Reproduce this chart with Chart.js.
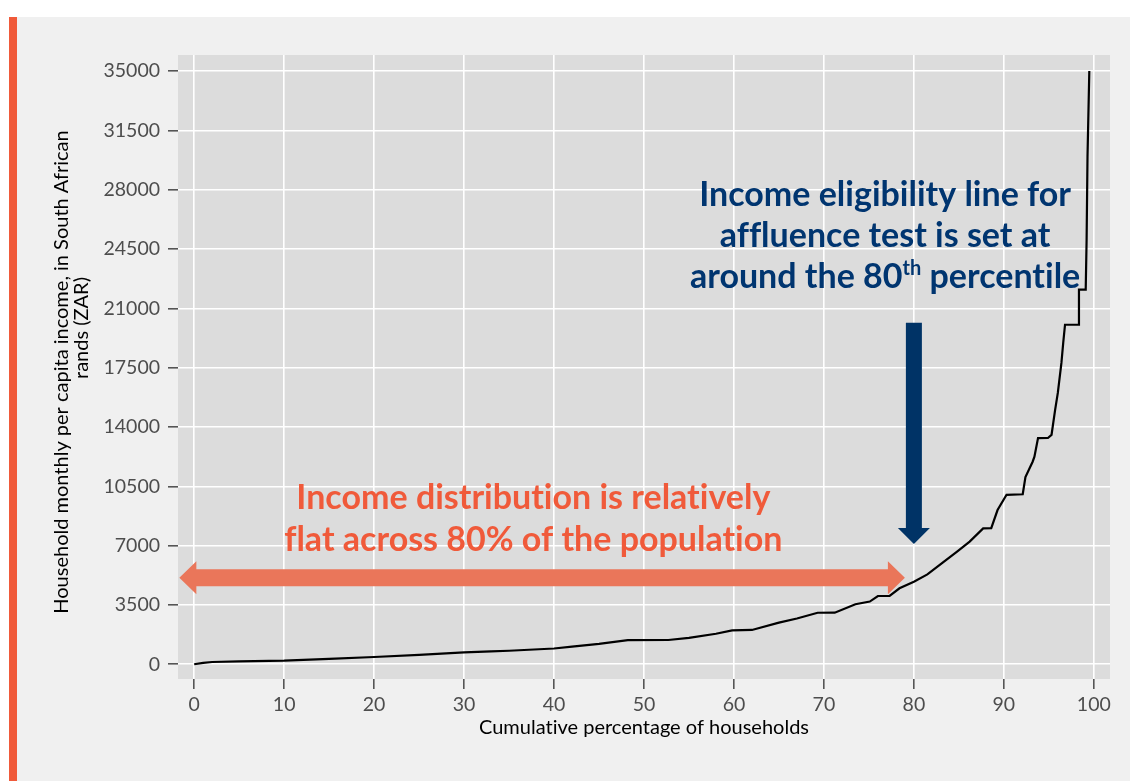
<!DOCTYPE html>
<html><head><meta charset="utf-8">
<script src="https://cdn.jsdelivr.net/npm/chart.js@4.4.1/dist/chart.umd.min.js"></script>
<style>
html,body{margin:0;padding:0;background:#fff;width:1130px;height:781px;overflow:hidden}
#panel{position:absolute;left:17px;top:17px;width:1113px;height:764px;background:#f0f0f0}
#bar{position:absolute;left:9px;top:17px;width:8px;height:764px;background:#f05a3a}
#wrap{position:absolute;left:0;top:0;width:1130px;height:781px}
</style></head><body>
<div id="panel"></div><div id="bar"></div>
<div id="wrap"><canvas id="c" width="1130" height="781"></canvas></div>
<script>
// ---- data ----
const householdPct = [0,1,2,5,10,15,20,25,30,33,35,40,42,45,48.2,52.7,55,58,59.8,62,65,67,69.3,71.2,73.5,75.1,76,77.3,78.4,80,81.5,83.2,84.8,86.2,87.7,88.6,89.3,90.3,92.1,92.4,93.2,93.4,93.8,94.9,95.3,95.7,96.0,96.4,96.6,96.8,98.3,98.35,99.1,99.2,99.3,99.5];
const incomeZAR = [0,80,135,170,212,320,430,560,708,760,800,930,1040,1200,1430,1434,1560,1800,2000,2025,2455,2700,3040,3045,3540,3700,4030,4040,4485,4875,5300,6000,6650,7240,8020,8030,9100,10000,10030,11050,11950,12250,13340,13350,13530,15010,16010,17780,18960,20030,20030,22100,22100,25050,29960,35000];
const xTicks = [0,10,20,30,40,50,60,70,80,90,100];
const yTicks = [0,3500,7000,10500,14000,17500,21000,24500,28000,31500,35000];
const xAxisTitle = "Cumulative percentage of households";
const yAxisTitle = ["Household monthly per capita income, in South African","rands (ZAR)"];
const flatNote = ["Income distribution is relatively","flat across 80% of the population"];
const eligibilityNote = [[{t:"Income eligibility line for"}],[{t:"affluence test is set at"}],[{t:"around the 80"},{t:"th",sup:true},{t:" percentile"}]];
// annotation anchors (data units)
const flatArrow = {from:-1.65, to:79, y:5100};
const eligArrow = {x:80, from:20150, to:7100};
const flatNotePos = {x:37.7, y:[9166,6705]};
const eligNotePos = {x:76.8, y:[27008,24611,22191]};

const ORANGE='#f05a3a', NAVY='#003570';

function drawRuns(ctx, runs, cx, y, size, color){
  const f = s => 'bold '+s+'px Lato';
  let w=0;
  runs.forEach(r=>{ctx.font=f(r.sup?Math.round(size*0.6):size); r.w=ctx.measureText(r.t).width; w+=r.w;});
  ctx.save(); ctx.translate(cx,y);
  ctx.fillStyle=color; ctx.textBaseline='alphabetic'; ctx.textAlign='left';
  let x=-w/2;
  runs.forEach(r=>{ctx.font=f(r.sup?Math.round(size*0.6):size); ctx.fillText(r.t,x,r.sup?-size*0.38:0); x+=r.w;});
  ctx.restore();
}

const annot = {
  id:'annot',
  beforeDraw(chart){
    const {ctx,chartArea:a}=chart;
    try{ctx.textRendering='optimizeSpeed';}catch(e){}
    ctx.save(); ctx.fillStyle='#dcdcdc'; ctx.fillRect(a.left,a.top,a.width,a.height); ctx.restore();
  },
  afterDatasetsDraw(chart){
    const {ctx,chartArea:a}=chart; const xs=chart.scales.x, ys=chart.scales.y;
    // orange double arrow
    let x1=xs.getPixelForValue(flatArrow.from), x2=xs.getPixelForValue(flatArrow.to), y=ys.getPixelForValue(flatArrow.y);
    const sh=8.5, hh=16.5, hl=17;
    ctx.save(); ctx.fillStyle='#ea765a'; ctx.beginPath();
    ctx.moveTo(x1,y); ctx.lineTo(x1+hl,y-hh); ctx.lineTo(x1+hl,y-sh); ctx.lineTo(x2-hl,y-sh); ctx.lineTo(x2-hl,y-hh);
    ctx.lineTo(x2,y); ctx.lineTo(x2-hl,y+hh); ctx.lineTo(x2-hl,y+sh); ctx.lineTo(x1+hl,y+sh); ctx.lineTo(x1+hl,y+hh);
    ctx.closePath(); ctx.fill(); ctx.restore();
    // navy down arrow
    const ax=xs.getPixelForValue(eligArrow.x), yt=ys.getPixelForValue(eligArrow.from), yb=ys.getPixelForValue(eligArrow.to);
    const ws=8, wh=16, lh=16;
    ctx.save(); ctx.fillStyle='#003366'; ctx.beginPath();
    ctx.moveTo(ax-ws,yt); ctx.lineTo(ax+ws,yt); ctx.lineTo(ax+ws,yb-lh); ctx.lineTo(ax+wh,yb-lh); ctx.lineTo(ax,yb);
    ctx.lineTo(ax-wh,yb-lh); ctx.lineTo(ax-ws,yb-lh); ctx.closePath(); ctx.fill(); ctx.restore();
    // texts
    flatNote.forEach((t,i)=>drawRuns(ctx,[{t}],xs.getPixelForValue(flatNotePos.x),ys.getPixelForValue(flatNotePos.y[i]),34,ORANGE));
    eligibilityNote.forEach((runs,i)=>drawRuns(ctx,runs,xs.getPixelForValue(eligNotePos.x),ys.getPixelForValue(eligNotePos.y[i]),34,NAVY));
    // y axis title (two lines, second line shifted as in the original)
    const midY=(a.top+a.bottom)/2;
    ctx.save(); ctx.fillStyle='#000'; ctx.font='20px Lato'; ctx.textAlign='center'; ctx.textBaseline='middle';
    [[ys.left+62, midY+5],[ys.left+82, midY-39]].forEach((p,i)=>{
      ctx.save(); ctx.translate(p[0],p[1]); ctx.rotate(-Math.PI/2); ctx.fillText(yAxisTitle[i],0,0); ctx.restore();
    });
    ctx.restore();
  }
};

const tickFont={family:'Lato',size:19.5};
new Chart(document.getElementById('c'),{
  type:'line',
  data:{datasets:[{data:householdPct.map((x,i)=>({x,y:incomeZAR[i]})),borderColor:'#000',borderWidth:2.2,pointRadius:0,tension:0,fill:false}]},
  options:{
    responsive:false, animation:false, devicePixelRatio:1,
    layout:{padding:{left:0,right:20,top:55,bottom:0}},
    plugins:{legend:{display:false},tooltip:{enabled:false}},
    scales:{
      x:{type:'linear',min:-1.8,max:101.8,
        afterBuildTicks:s=>{s.ticks=xTicks.map(v=>({value:v}));},
        afterFit:s=>{s.height=102;},
        grid:{color:'#ffffff',lineWidth:1.6,tickColor:'#555',tickLength:10,drawOnChartArea:true},
        border:{display:false},
        ticks:{color:'#4d4d4d',font:tickFont,padding:4,maxRotation:0,autoSkip:false,callback:v=>String(v)},
        title:{display:true,text:xAxisTitle,color:'#000',font:{family:'Lato',size:20},padding:{top:0,bottom:41}}
      },
      y:{type:'linear',min:-868,max:35944,
        afterBuildTicks:s=>{s.ticks=yTicks.map(v=>({value:v}));},
        afterFit:s=>{s.width=178;},
        grid:{color:'#ffffff',lineWidth:1.6,tickColor:'#555',tickLength:10,drawOnChartArea:true},
        border:{display:false},
        ticks:{color:'#4d4d4d',font:tickFont,padding:8,autoSkip:false,callback:v=>String(v)},
        title:{display:false}
      }
    }
  },
  plugins:[annot]
});
</script></body></html>
